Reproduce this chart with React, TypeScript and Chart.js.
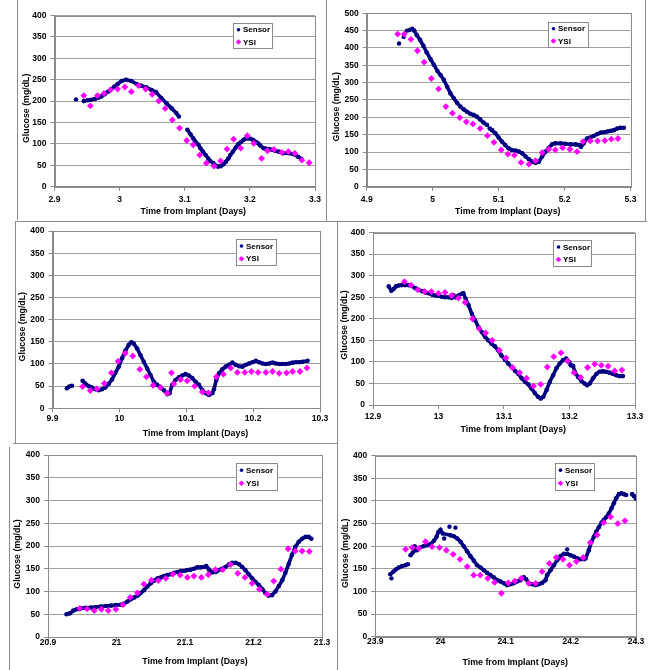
import React, { useEffect, useRef } from 'react';
import { Chart, registerables } from 'chart.js';

Chart.register(...registerables);

// ---------------- DATA ----------------
const xTitleText = 'Time from Implant (Days)';
const yTitleText = 'Glucose (mg/dL)';
const legendLabels = ['Sensor', 'YSI'];

const yTicks400 = [0, 50, 100, 150, 200, 250, 300, 350, 400];
const yTicks500 = [0, 50, 100, 150, 200, 250, 300, 350, 400, 450, 500];

const p1XTicks = [2.9, 3.0, 3.1, 3.2, 3.3];
const p2XTicks = [4.9, 5.0, 5.1, 5.2, 5.3];
const p3XTicks = [9.9, 10.0, 10.1, 10.2, 10.3];
const p4XTicks = [12.9, 13.0, 13.1, 13.2, 13.3];
const p5XTicks = [20.9, 21.0, 21.1, 21.2, 21.3];
const p6XTicks = [23.9, 24.0, 24.1, 24.2, 24.3];

// [days, mg/dL]; null marks a break in the sensor trace
const p1Sensor = [
  [2.945, 200], [2.951, 202], [2.956, 203], [2.962, 205], [2.967, 208], [2.972, 211], [2.977, 216], [2.982, 222],
  [2.987, 228], [2.992, 234], [2.997, 240], [3.003, 247], [3.010, 250], [3.018, 247], [3.026, 240], [3.033, 236],
  [3.041, 232], [3.049, 226], [3.056, 221], [3.064, 207], [3.072, 195], [3.080, 183], [3.087, 172], [3.091, 164],
  [3.097, null], [3.104, 133], [3.109, 122], [3.113, 113], [3.116, 106], [3.121, 98], [3.124, 90], [3.128, 82],
  [3.132, 74], [3.136, 66], [3.139, 60], [3.144, 55], [3.147, 50], [3.151, 47], [3.155, 48], [3.159, 52],
  [3.163, 58], [3.167, 66], [3.170, 74], [3.174, 82], [3.178, 91], [3.182, 99], [3.186, 104], [3.190, 109],
  [3.193, 112], [3.197, 113], [3.201, 112], [3.205, 109], [3.209, 105], [3.213, 101], [3.216, 96], [3.221, 90],
  [3.224, 89], [3.228, 88], [3.232, 87], [3.236, 86], [3.239, 84], [3.244, 82], [3.251, 78], [3.259, 78],
  [3.267, 76], [3.274, 70], [3.279, 65],
];
const p1Outliers = [[2.933, 204]];
const p1Ysi = [
  [2.945, 213], [2.955, 189], [2.966, 213], [2.976, 218], [2.986, 226], [2.997, 228], [3.008, 233], [3.018, 222],
  [3.029, 236], [3.040, 228], [3.050, 216], [3.060, 200], [3.070, 183], [3.081, 156], [3.092, 137], [3.103, 108],
  [3.113, 98], [3.123, 74], [3.133, 55], [3.145, 48], [3.155, 60], [3.165, 88], [3.175, 111], [3.186, 90],
  [3.196, 119], [3.206, 101], [3.218, 66], [3.227, 84], [3.237, 87], [3.249, 80], [3.259, 82], [3.269, 78],
  [3.280, 62], [3.291, 56],
];

const p2Sensor = [
  [4.965, 452], [4.969, 455], [4.972, 450], [4.976, 437], [4.981, 423], [4.986, 406], [4.991, 387], [4.997, 367],
  [5.002, 351], [5.007, 334], [5.012, 322], [5.017, 308], [5.022, 288], [5.027, 269], [5.032, 255], [5.037, 242],
  [5.042, 231], [5.047, 223], [5.052, 216], [5.057, 210], [5.062, 207], [5.067, 202], [5.072, 194], [5.077, 185],
  [5.0825, 178], [5.0845, null], [5.0865, 168], [5.090, 163], [5.095, 154], [5.100, 142], [5.105, 130], [5.110, 120],
  [5.115, 111], [5.120, 106], [5.126, 104], [5.131, 101], [5.136, 96], [5.141, 87], [5.146, 79], [5.151, 72],
  [5.156, 69], [5.161, 72], [5.166, 87], [5.171, 101], [5.176, 112], [5.181, 122], [5.186, 125], [5.194, 125],
  [5.201, 124], [5.209, 122], [5.217, 122], [5.222, 120], [5.225, 115], [5.229, 125], [5.234, 139], [5.239, 142],
  [5.244, 146], [5.250, 152], [5.255, 156], [5.260, 157], [5.265, 159], [5.270, 161], [5.275, 163], [5.280, 168],
  [5.285, 170], [5.290, 170],
];
const p2Outliers = [[4.949, 413], [4.956, 432], [4.961, 450]];
const p2Ysi = [
  [4.947, 440], [4.957, 440], [4.967, 425], [4.977, 392], [4.987, 359], [4.998, 312], [5.009, 282], [5.020, 231],
  [5.030, 212], [5.041, 199], [5.051, 187], [5.061, 181], [5.072, 168], [5.083, 147], [5.093, 128], [5.104, 106],
  [5.114, 94], [5.124, 91], [5.134, 70], [5.146, 65], [5.156, 75], [5.166, 98], [5.176, 108], [5.186, 106],
  [5.197, 112], [5.208, 108], [5.219, 101], [5.228, 130], [5.239, 132], [5.250, 132], [5.261, 133], [5.271, 137],
  [5.281, 139],
];

const p3Sensor = [
  [9.9215, 45], [9.925, 49], [9.929, 51], [9.937, null], [9.945, 62], [9.949, 56], [9.954, 50], [9.959, 47],
  [9.964, 43], [9.969, 41], [9.974, 43], [9.979, 47], [9.984, 55], [9.989, 65], [9.994, 80], [9.999, 94],
  [10.004, 113], [10.009, 130], [10.014, 143], [10.018, 149], [10.0215, 146], [10.0265, 135], [10.0315, 120],
  [10.0365, 105], [10.0415, 90], [10.0465, 75], [10.0515, 60], [10.0565, 53], [10.0615, 47], [10.0665, 41],
  [10.0715, 32], [10.075, 34], [10.079, 53], [10.084, 64], [10.089, 70], [10.094, 74], [10.099, 77], [10.104, 74],
  [10.109, 68], [10.114, 60], [10.119, 53], [10.124, 41], [10.129, 34], [10.134, 30], [10.139, 34], [10.1415, 43],
  [10.145, 64], [10.149, 79], [10.154, 88], [10.159, 94], [10.164, 98], [10.169, 103], [10.174, 98], [10.179, 95],
  [10.184, 94], [10.189, 98], [10.194, 101], [10.199, 104], [10.204, 107], [10.209, 104], [10.214, 101],
  [10.219, 100], [10.224, 101], [10.229, 103], [10.234, 101], [10.239, 100], [10.244, 100], [10.249, 100],
  [10.254, 101], [10.259, 103], [10.264, 104], [10.269, 104], [10.274, 105], [10.2815, 107],
];
const p3Outliers = [];
const p3Ysi = [
  [9.945, 49], [9.9565, 40], [9.9665, 44], [9.9775, 56], [9.988, 80], [9.998, 106], [10.009, 124], [10.020, 118],
  [10.0305, 88], [10.0405, 71], [10.0505, 52], [10.0615, 47], [10.0715, 34], [10.078, 80], [10.0815, 55],
  [10.0915, 65], [10.1015, 62], [10.1125, 50], [10.124, 37], [10.133, 35], [10.145, 71], [10.1555, 77],
  [10.1665, 91], [10.1765, 81], [10.1875, 81], [10.1975, 83], [10.2075, 81], [10.219, 81], [10.229, 83],
  [10.239, 79], [10.250, 80], [10.259, 83], [10.270, 83], [10.2805, 91],
];

const p4Sensor = [
  [12.924, 275], [12.928, 265], [12.9315, 269], [12.935, 275], [12.939, 277], [12.944, 278], [12.949, 278],
  [12.954, 278], [12.959, 276], [12.9645, 271], [12.9695, 267], [12.975, 264], [12.980, 261], [12.985, 259],
  [12.990, 256], [12.995, 254], [13.000, 253], [13.005, 251], [13.010, 250], [13.015, 250], [13.020, 248],
  [13.023, 254], [13.026, 250], [13.0305, 254], [13.0355, 258], [13.038, 259], [13.0415, 246], [13.046, 231],
  [13.051, 211], [13.056, 196], [13.061, 181], [13.066, 169], [13.071, 158], [13.076, 150], [13.081, 142],
  [13.086, 136], [13.091, 127], [13.096, 115], [13.1015, 105], [13.1065, 96], [13.112, 87], [13.117, 79],
  [13.122, 72], [13.127, 62], [13.132, 54], [13.137, 48], [13.142, 38], [13.147, 28], [13.152, 19], [13.156, 15],
  [13.160, 19], [13.165, 35], [13.170, 54], [13.175, 69], [13.180, 85], [13.185, 96], [13.190, 104], [13.195, 108],
  [13.1995, 100], [13.202, 92], [13.2055, 91], [13.208, 77], [13.213, 65], [13.218, 56], [13.223, 50],
  [13.227, 46], [13.231, 50], [13.236, 62], [13.241, 72], [13.246, 77], [13.251, 78], [13.256, 77], [13.261, 75],
  [13.2665, 72], [13.2715, 69], [13.2765, 67], [13.2815, 67],
];
const p4Outliers = [];
const p4Ysi = [
  [12.948, 286], [12.958, 278], [12.9685, 267], [12.979, 263], [12.989, 263], [13.000, 259], [13.010, 261],
  [13.020, 254], [13.0305, 248], [13.0405, 238], [13.052, 200], [13.062, 177], [13.072, 167], [13.082, 150],
  [13.093, 127], [13.103, 109], [13.113, 87], [13.124, 75], [13.1345, 62], [13.145, 44], [13.156, 48],
  [13.166, 88], [13.176, 112], [13.187, 121], [13.197, 102], [13.207, 75], [13.217, 64], [13.2275, 87],
  [13.2385, 95], [13.2485, 92], [13.259, 90], [13.269, 79], [13.280, 81],
];

const p5Sensor = [
  [20.927, 50], [20.932, 52], [20.937, 58], [20.942, 61], [20.948, 63], [20.955, 64], [20.963, 65], [20.970, 66],
  [20.977, 67], [20.9845, 68], [20.992, 69], [20.999, 70], [21.006, 71], [21.011, 73], [21.016, 78], [21.021, 83],
  [21.026, 87], [21.031, 91], [21.035, 96], [21.040, 103], [21.045, 111], [21.050, 118], [21.055, 124],
  [21.060, 129], [21.065, 131], [21.069, 134], [21.074, 136], [21.079, 138], [21.084, 141], [21.089, 143],
  [21.094, 145], [21.0985, 145], [21.103, 147], [21.108, 148], [21.113, 150], [21.118, 153], [21.123, 153],
  [21.128, 154], [21.131, 156], [21.135, 148], [21.140, 142], [21.145, 143], [21.1495, 147], [21.154, 150],
  [21.159, 154], [21.164, 159], [21.169, 163], [21.174, 163], [21.179, 160], [21.1835, 154], [21.188, 147],
  [21.193, 138], [21.198, 129], [21.203, 121], [21.208, 114], [21.213, 105], [21.2175, 96], [21.222, 91],
  [21.227, 92], [21.232, 100], [21.237, 112], [21.242, 125], [21.2465, 141], [21.2515, 161], [21.256, 180],
  [21.261, 198], [21.266, 209], [21.271, 216], [21.276, 220], [21.2805, 220], [21.2845, 216],
];
const p5Outliers = [];
const p5Ysi = [
  [20.9465, 63], [20.957, 62], [20.9675, 58], [20.978, 61], [20.988, 58], [20.999, 61], [21.0095, 71],
  [21.020, 87], [21.0305, 97], [21.040, 116], [21.051, 125], [21.061, 124], [21.072, 129], [21.0825, 138],
  [21.093, 136], [21.1035, 131], [21.113, 134], [21.124, 131], [21.134, 137], [21.1445, 148], [21.155, 148],
  [21.1665, 159], [21.177, 140], [21.1875, 131], [21.198, 118], [21.2085, 105], [21.220, 94], [21.2295, 123],
  [21.240, 149], [21.2505, 194], [21.261, 189], [21.271, 189], [21.2815, 188],
];

const p6Sensor = [
  [23.923, 138], [23.928, 144], [23.932, 149], [23.936, 153], [23.941, 156], [23.946, 158], [23.950, 160],
  [23.952, null], [23.954, 180], [23.9575, 186], [23.961, 191], [23.964, 191], [23.969, 197], [23.974, 200],
  [23.980, 202], [23.985, 205], [23.990, 212], [23.994, 221], [23.997, 232], [24.000, 236], [24.0035, 228],
  [24.0155, 224], [24.0205, 222], [24.0256, 217], [24.0307, 210], [24.0358, 200], [24.0409, 189], [24.046, 178],
  [24.0512, 168], [24.0563, 158], [24.0614, 153], [24.0665, 147], [24.0716, 141], [24.0767, 136], [24.0818, 131],
  [24.087, 125], [24.0921, 122], [24.0972, 118], [24.1023, 114], [24.1074, 116], [24.1125, 118], [24.1176, 122],
  [24.1228, 125], [24.1279, 131], [24.1315, 127], [24.1355, 118], [24.1407, 116], [24.1458, 114], [24.1509, 116],
  [24.156, 119], [24.1611, 125], [24.1637, 136], [24.1688, 147], [24.1739, 158], [24.179, 169], [24.1841, 178],
  [24.1893, 183], [24.1944, 183], [24.1995, 180], [24.2046, 177], [24.2097, 173], [24.2148, 171], [24.2199, 171],
  [24.2225, 173], [24.2276, 191], [24.2317, 210], [24.2353, 221], [24.2389, 232], [24.243, 242], [24.2471, 252],
  [24.2506, 258], [24.2542, 264], [24.2583, 272], [24.2624, 284], [24.266, 295], [24.2696, 306], [24.2737, 315],
  [24.2777, 317], [24.2813, 315], [24.2849, 313], [24.289, null], [24.294, 315], [24.2967, 311], [24.300, 305],
];
const p6Outliers = [[23.9248, 129], [23.9606, 200], [24.0057, 217], [24.0138, 243], [24.023, 241], [24.1944, 193]];
const p6Ysi = [
  [23.9465, 193], [23.9565, 197], [23.967, 195], [23.977, 210], [23.987, 199], [23.9985, 197], [24.009, 191],
  [24.0195, 182], [24.030, 171], [24.041, 155], [24.051, 136], [24.061, 136], [24.0725, 129], [24.083, 120],
  [24.0935, 96], [24.104, 119], [24.114, 123], [24.124, 129], [24.1355, 118], [24.146, 118], [24.156, 144],
  [24.167, 162], [24.1775, 175], [24.188, 171], [24.198, 158], [24.2085, 166], [24.219, 175], [24.230, 208],
  [24.2405, 225], [24.2505, 252], [24.261, 265], [24.272, 250], [24.283, 256],
];

// ---------------- STYLE / LAYOUT ----------------
const FONT = '"Liberation Sans", Arial, Helvetica, sans-serif';
const SENSOR_COLOR = '#000080';
const YSI_COLOR = '#ff00ff';
const GRID_COLOR = '#a0a0a0';
const FRAME_COLOR = '#8a8a8a';
const TICK_SIZE = 8.5;
const TITLE_SIZE = 8.8;
const LEGEND_SIZE = 8;

// page-coordinate layout of each sub-figure
const layouts = [
  { plot: [54.5, 15.5, 315, 186.7], yTitle: [26.7, 108.3], xTitle: [193.3, 212], xLabelOff: 13.3, legend: [233.3, 23.3, 39.4, 25] },
  { plot: [366.7, 13.3, 630.5, 186.7], yTitle: [337, 106.7], xTitle: [507.8, 212], xLabelOff: 12.7, legend: [548, 21.7, 39.7, 25] },
  { plot: [52.5, 231, 320, 408.3], yTitle: [22.7, 326.7], xTitle: [195.5, 434], xLabelOff: 10, legend: [236, 239, 40, 26] },
  { plot: [373, 232.5, 635, 405], yTitle: [344.7, 325], xTitle: [513.3, 429.3], xLabelOff: 11.3, legend: [553, 240, 38.3, 25.7] },
  { plot: [48, 455, 322, 637], yTitle: [17.3, 554], xTitle: [195, 661.7], xLabelOff: 5.8, legend: [236, 463.3, 41.3, 26.7] },
  { plot: [375.3, 455.7, 636, 636.7], yTitle: [345.3, 553.3], xTitle: [515.3, 662.7], xLabelOff: 4.8, legend: [555.3, 462.7, 39.4, 26.6] },
];

const panels = [
  { sensor: p1Sensor, outliers: p1Outliers, ysi: p1Ysi, xTicks: p1XTicks, yTicks: yTicks400 },
  { sensor: p2Sensor, outliers: p2Outliers, ysi: p2Ysi, xTicks: p2XTicks, yTicks: yTicks500 },
  { sensor: p3Sensor, outliers: p3Outliers, ysi: p3Ysi, xTicks: p3XTicks, yTicks: yTicks400 },
  { sensor: p4Sensor, outliers: p4Outliers, ysi: p4Ysi, xTicks: p4XTicks, yTicks: yTicks400 },
  { sensor: p5Sensor, outliers: p5Outliers, ysi: p5Ysi, xTicks: p5XTicks, yTicks: yTicks400 },
  { sensor: p6Sensor, outliers: p6Outliers, ysi: p6Ysi, xTicks: p6XTicks, yTicks: yTicks400 },
];

// thin grey frame lines of the collage [x1, y1, x2, y2]
const frameLines = [
  [17, 0, 17, 220], [326, 0, 326, 222],
  [645, 0, 645, 221], [335, 221, 645, 221],
  [15, 221, 325, 221], [15, 221, 15, 443], [15, 443, 326, 443],
  [322, 221, 647, 221], [337, 221, 337, 443], [322, 443, 337, 443],
  [13, 443, 325, 443], [9, 447, 9, 670],
  [337, 443, 337, 670],
];

const toPoints = (pairs: any[]) => pairs.map(([x, y]) => ({ x, y }));
const fmt = (v: number) => String(+(+v).toFixed(2));

const decorPlugin = {
  id: 'panelDecor',
  beforeDatasetsDraw(chart: any) {
    const { ctx, chartArea: a } = chart;
    ctx.save();
    ctx.strokeStyle = FRAME_COLOR;
    ctx.lineWidth = 1;
    const l = Math.round(a.left) + 0.5, t = Math.round(a.top) + 0.5;
    const r = Math.round(a.right) + 0.5, b = Math.round(a.bottom) + 0.5;
    ctx.strokeRect(l, t, r - l, b - t);
    ctx.restore();
  },
  afterDraw(chart: any, _args: any, opts: any) {
    const { ctx } = chart;
    const [ox, oy] = opts.origin;
    ctx.save();
    // axis titles
    ctx.fillStyle = '#000';
    ctx.font = `bold ${TITLE_SIZE}px ${FONT}`;
    ctx.textAlign = 'center';
    ctx.textBaseline = 'middle';
    ctx.fillText(xTitleText, opts.xTitle[0] - ox, opts.xTitle[1] - oy);
    ctx.save();
    ctx.translate(opts.yTitle[0] - ox, opts.yTitle[1] - oy);
    ctx.rotate(-Math.PI / 2);
    ctx.fillText(yTitleText, 0, 0);
    ctx.restore();
    // legend box
    const [lx0, ly0, lw, lh] = opts.legend;
    const lx = Math.round(lx0 - ox) + 0.5, ly = Math.round(ly0 - oy) + 0.5;
    ctx.fillStyle = '#fff';
    ctx.fillRect(lx, ly, Math.round(lw), Math.round(lh));
    ctx.strokeStyle = FRAME_COLOR;
    ctx.lineWidth = 1;
    ctx.strokeRect(lx, ly, Math.round(lw), Math.round(lh));
    ctx.font = `bold ${LEGEND_SIZE}px ${FONT}`;
    ctx.textAlign = 'left';
    const rows = [0.25, 0.74];
    legendLabels.forEach((label, i) => {
      const cy = ly + lh * rows[i];
      const mx = lx + 5;
      if (label === 'Sensor') {
        ctx.fillStyle = SENSOR_COLOR;
        ctx.beginPath();
        ctx.arc(mx, cy, 1.8, 0, Math.PI * 2);
        ctx.fill();
      } else {
        ctx.fillStyle = YSI_COLOR;
        ctx.beginPath();
        ctx.moveTo(mx - 2.8, cy);
        ctx.lineTo(mx, cy - 2.8);
        ctx.lineTo(mx + 2.8, cy);
        ctx.lineTo(mx, cy + 2.8);
        ctx.closePath();
        ctx.fill();
      }
      ctx.fillStyle = '#000';
      ctx.fillText(label, lx + 9.5, cy + 0.5);
    });
    ctx.restore();
  },
};

function Panel({ index }: { index: number }) {
  const ref = useRef<HTMLCanvasElement>(null);
  const lay = layouts[index];
  const p = panels[index];
  const [pl, pt, pr, pb] = lay.plot;
  const cl = Math.floor(lay.yTitle[0] - 8);
  const ct = Math.floor(pt - 9);
  const cr = Math.ceil(pr + 14);
  const cb = Math.min(670, Math.ceil(lay.xTitle[1] + 7));
  const cw = cr - cl;
  const ch = cb - ct;

  useEffect(() => {
    if (!ref.current) return;
    const xT = p.xTicks;
    const yT = p.yTicks;
    const chart = new Chart(ref.current, {
      type: 'scatter',
      data: {
        datasets: [
          {
            label: 'YSI',
            data: toPoints(p.ysi),
            showLine: false,
            pointStyle: 'rectRot',
            pointRadius: 3.4,
            pointHoverRadius: 3.4,
            backgroundColor: YSI_COLOR,
            borderColor: YSI_COLOR,
            pointBorderWidth: 0,
          },
          {
            label: 'Sensor',
            data: toPoints(p.sensor),
            showLine: true,
            spanGaps: false,
            borderColor: SENSOR_COLOR,
            borderWidth: 3.6,
            backgroundColor: SENSOR_COLOR,
            pointRadius: 2.3,
            pointHoverRadius: 2.3,
            pointBorderWidth: 0,
            tension: 0,
          },
          {
            label: 'Sensor (single readings)',
            data: toPoints(p.outliers),
            showLine: false,
            backgroundColor: SENSOR_COLOR,
            pointRadius: 2.2,
            pointHoverRadius: 2.2,
            pointBorderWidth: 0,
          },
        ] as any,
      },
      options: {
        animation: false,
        responsive: false,
        maintainAspectRatio: false,
        events: [],
        layout: { padding: { left: 0, top: pt - ct, right: cr - pr, bottom: 0 } },
        plugins: {
          legend: { display: false },
          tooltip: { enabled: false },
          panelDecor: {
            origin: [cl, ct],
            xTitle: lay.xTitle,
            yTitle: lay.yTitle,
            legend: lay.legend,
          },
        } as any,
        scales: {
          x: {
            type: 'linear',
            min: xT[0],
            max: xT[xT.length - 1],
            afterBuildTicks: (s: any) => { s.ticks = xT.map((v) => ({ value: v })); },
            afterFit: (s: any) => { s.height = cb - pb; s.paddingLeft = 0; s.paddingRight = 0; },
            ticks: {
              autoSkip: false,
              maxRotation: 0,
              padding: lay.xLabelOff - 4 - TICK_SIZE * 0.6,
              color: '#000',
              font: { family: FONT, size: TICK_SIZE, weight: 'bold' },
              callback: (v: any) => fmt(v),
            },
            grid: { drawOnChartArea: false, drawTicks: true, tickLength: 4, tickColor: FRAME_COLOR },
            border: { display: true, color: FRAME_COLOR },
          },
          y: {
            type: 'linear',
            min: yT[0],
            max: yT[yT.length - 1],
            afterBuildTicks: (s: any) => { s.ticks = yT.map((v) => ({ value: v })); },
            afterFit: (s: any) => { s.width = pl - cl; s.paddingTop = 0; s.paddingBottom = 0; },
            ticks: {
              padding: 4,
              color: '#000',
              font: { family: FONT, size: TICK_SIZE, weight: 'bold' },
              callback: (v: any) => fmt(v),
            },
            grid: { color: GRID_COLOR, tickColor: FRAME_COLOR, tickLength: 4 },
            border: { display: true, color: FRAME_COLOR },
          },
        } as any,
      },
      plugins: [decorPlugin as any],
    });
    return () => chart.destroy();
  }, [index]);

  return (
    <canvas
      ref={ref}
      width={cw}
      height={ch}
      style={{ position: 'absolute', left: cl, top: ct, width: cw, height: ch }}
    />
  );
}

export default function App() {
  return (
    <div
      style={{
        position: 'fixed',
        left: 0,
        top: 0,
        width: 652,
        height: 670,
        background: '#fff',
        overflow: 'hidden',
      }}
    >
      {frameLines.map(([x1, y1, x2, y2], i) => (
        <div
          key={i}
          style={{
            position: 'absolute',
            left: Math.min(x1, x2),
            top: Math.min(y1, y2),
            width: Math.max(1, Math.abs(x2 - x1)),
            height: Math.max(1, Math.abs(y2 - y1)),
            background: '#8c8c8c',
          }}
        />
      ))}
      {layouts.map((_, i) => (
        <Panel key={i} index={i} />
      ))}
    </div>
  );
}
